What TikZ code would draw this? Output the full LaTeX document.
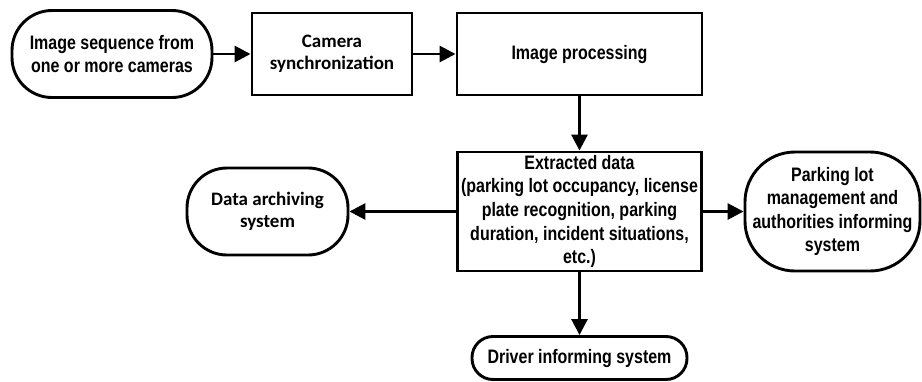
\documentclass[tikz,border=0pt]{standalone}
\usepackage{fontspec}
\setmainfont{Liberation Sans}
\newfontfamily\nrwfont[FakeStretch=0.82]{Liberation Sans}
\newfontfamily\calfont{Carlito}
\usetikzlibrary{arrows.meta}
\begin{document}
\begin{tikzpicture}[x=1pt,y=-1pt,
  box/.style={draw, line width=2.9pt, inner sep=0pt, align=center,
    font=\nrwfont\bfseries\fontsize{19.5}{23.2}\selectfont},
  term/.style={box, rounded corners=#1},
  calib/.style={font=\calfont\bfseries\fontsize{19}{22}\selectfont},
  conn/.style={line width=2.9pt, -{Triangle[length=16pt,width=16pt]}}
]
\useasboundingbox (0,0) rectangle (922,381);
\node[term=40pt, minimum width=200pt, minimum height=87pt] (src) at (112,54)
  {Image sequence from\\one or more cameras};
\node[box, calib, minimum width=160pt, minimum height=82pt] (sync) at (332,54)
  {Camera\\synchronization};
\node[box, minimum width=245pt, minimum height=82pt] (proc) at (579.5,54)
  {Image processing};
\node[box, minimum width=244pt, minimum height=119pt,
  font=\nrwfont\bfseries\fontsize{19.5}{23.7}\selectfont] (ext) at (579.5,211.5)
  {Extracted data\\(parking lot occupancy, license\\plate recognition, parking\\duration, incident situations,\\etc.)};
\node[term=40pt, calib, minimum width=161pt, minimum height=87pt] (arch) at (267.5,211.5)
  {Data archiving\\system};
\node[term=50pt, minimum width=175pt, minimum height=119pt] (park) at (832.5,211.5)
  {Parking lot\\management and\\authorities informing\\system};
\node[term=21pt, minimum width=215pt, minimum height=43pt] (drv) at (579.5,358)
  {Driver informing system};
\draw[conn] (src) -- (sync);
\draw[conn] (sync) -- (proc);
\draw[conn] (proc) -- (ext);
\draw[conn] (ext) -- (arch);
\draw[conn] (ext) -- (park);
\draw[conn] (ext) -- (drv);
\end{tikzpicture}
\end{document}
